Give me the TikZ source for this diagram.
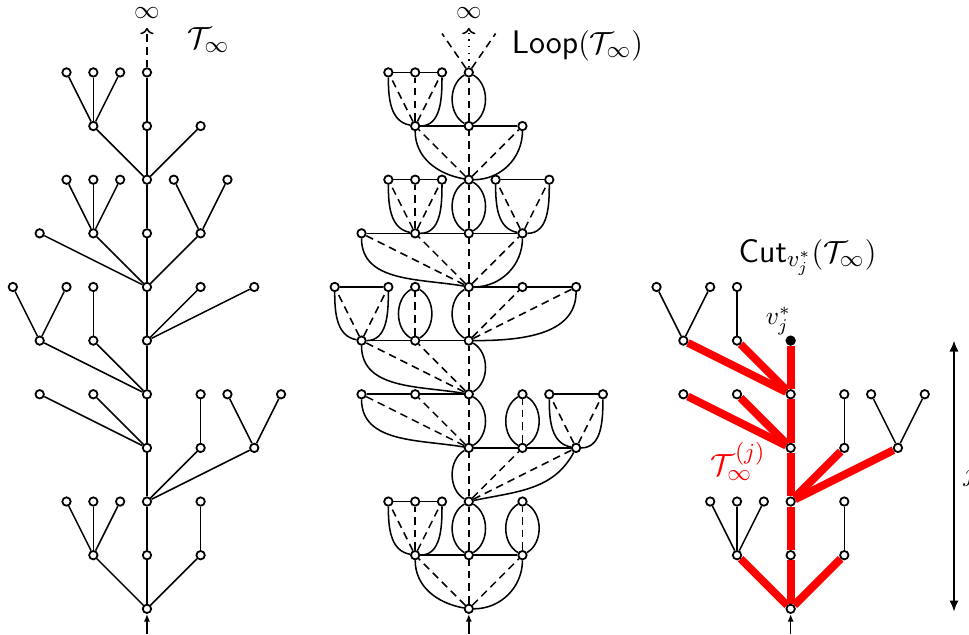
\documentclass[tikz,border=0pt]{standalone}
\usepackage{amsmath,amssymb}
\usetikzlibrary{arrows.meta,positioning}
\pgfdeclarelayer{bg}
\pgfsetlayers{bg,main}

% parent x / parent level / child x / child level
\newcommand\treeedges{0/0/-2/1, 0/0/0/1, 0/0/2/1,
  -2/1/-3/2, -2/1/-2/2, -2/1/-1/2, 0/1/0/2, 2/1/2/2,
  0/2/0/3, 0/2/2/3, 0/2/4/3,
  0/3/-4/4, 0/3/-2/4, 0/3/0/4, 2/3/2/4, 4/3/3/4, 4/3/5/4,
  0/4/-4/5, 0/4/-2/5, 0/4/0/5,
  -4/5/-5/6, -4/5/-3/6, -2/5/-2/6, 0/5/0/6, 0/5/2/6, 0/5/4/6,
  0/6/-4/7, 0/6/-2/7, 0/6/0/7, 0/6/2/7,
  -2/7/-3/8, -2/7/-2/8, -2/7/-1/8, 0/7/0/8, 2/7/1/8, 2/7/3/8,
  0/8/-2/9, 0/8/0/9, 0/8/2/9,
  -2/9/-3/10, -2/9/-2/10, -2/9/-1/10, 0/9/0/10}
% parent x / level / first child / last child / out / in / children
\newcommand\families{0/0/-2/2/-90/0/{-2,0,2}, -2/1/-3/-1/-90/0/{-3,-2,-1},
  0/1/0/0/-90/0/{0}, 2/1/2/2/-90/0/{2}, 0/2/0/4/-118/12/{0,2,4},
  0/3/-4/0/-90/0/{-4,-2,0}, 2/3/2/2/-90/0/{2}, 4/3/3/5/-90/0/{3,5},
  0/4/-4/0/-90/0/{-4,-2,0}, -4/5/-5/-3/-90/0/{-5,-3}, -2/5/-2/-2/-90/0/{-2},
  0/5/0/4/-90/0/{0,2,4}, 0/6/-4/2/-90/0/{-4,-2,0,2}, -2/7/-3/-1/-90/0/{-3,-2,-1},
  0/7/0/0/-90/0/{0}, 2/7/1/3/-90/0/{1,3}, 0/8/-2/2/-90/0/{-2,0,2},
  -2/9/-3/-1/-90/0/{-3,-2,-1}, 0/9/0/0/-90/0/{0}}
\newcommand\rededges{0/0/-2/1, 0/0/0/1, 0/0/2/1, 0/1/0/2, 0/2/0/3, 0/2/2/3, 0/2/4/3,
  0/3/-4/4, 0/3/-2/4, 0/3/0/4, 0/4/-4/5, 0/4/-2/5}
\newcommand\blackedges{-2/1/-3/2, -2/1/-2/2, -2/1/-1/2, 2/1/2/2, 2/3/2/4, 4/3/3/4,
  4/3/5/4, -4/5/-5/6, -4/5/-3/6, -2/5/-2/6}

\tikzset{
  vtx/.style={circle,draw,fill=white,line width=0.7pt,inner sep=0pt,minimum size=3.3pt},
  cutvtx/.style={vtx,fill=black},
  treeedge/.style={line width=0.6pt},
  dsh/.style={line width=0.6pt,dash pattern=on 3pt off 2pt},
  rededge/.style={red,line width=3.1pt},
  lbl/.style={font=\fontsize{12.8}{15}\selectfont},
}

\begin{document}
\begin{tikzpicture}[x=0.37cm,y=0.37cm,>=Latex]
\useasboundingbox (-5.48,-0.94) rectangle (30.65,22.70);

% the tree
\begin{scope}
  \node[vtx] (L0-0) at (0,0) {};
  \foreach \px/\pl/\cx/\cl in \treeedges
    \node[vtx] (L\cx-\cl) at ({\cx},{2*\cl}) {};
  \begin{pgfonlayer}{bg}
    \foreach \px/\pl/\cx/\cl in \treeedges
      \draw[treeedge] (L\px-\pl) -- (L\cx-\cl);
  \end{pgfonlayer}
  \node (Linf) at (0,22.2) {$\infty$};
  \coordinate (Lin) at (0,-0.94);
  \draw[dsh,-{To[length=2.5pt]}] (L0-10) -- (Linf);
  \draw[treeedge,-{Latex[length=3pt,width=2.4pt]}] (Lin) -- (L0-0);
  \node[lbl] (Llbl) at (2.3,21.2) {$\mathcal{T}_\infty$};
\end{scope}

% its looptree
\begin{scope}[shift={(12,0)}]
  \node[vtx] (M0-0) at (0,0) {};
  \foreach \px/\pl/\cx/\cl in \treeedges
    \node[vtx] (M\cx-\cl) at ({\cx},{2*\cl}) {};
  \begin{pgfonlayer}{bg}
    \foreach \px/\pl/\first/\last/\ro/\ri/\kids in \families {
      \pgfmathtruncatemacro\cl{\pl+1}
      \foreach \c in \kids
        \draw[dsh] (M\px-\pl) -- (M\c-\cl);
      \ifnum\first=\last
        \draw[treeedge] (M\first-\cl) to[bend right=60] (M\px-\pl)
          (M\first-\cl) to[bend left=60] (M\px-\pl);
      \else
        \draw[treeedge] (M\first-\cl) -- (M\last-\cl);
        \ifnum\first<\px
          \draw[treeedge] (M\first-\cl) to[out=-90,in=170] (M\px-\pl);
        \else
          \draw[treeedge] (M\first-\cl) to[bend right=60] (M\px-\pl);
        \fi
        \ifnum\last>\px
          \draw[treeedge] (M\last-\cl) to[out=\ro,in=\ri] (M\px-\pl);
        \else
          \draw[treeedge] (M\last-\cl) to[bend left=60] (M\px-\pl);
        \fi
      \fi
    }
  \end{pgfonlayer}
  \node (Minf) at (0,22.2) {$\infty$};
  \coordinate (Min) at (0,-0.94);
  \coordinate (Mul) at (-1,21.45);
  \coordinate (Mur) at (1,21.45);
  \draw[treeedge,dotted,-{To[length=2.5pt]}] (M0-10) -- (Minf);
  \draw[dsh] (M0-10) -- (Mul) (M0-10) -- (Mur);
  \draw[treeedge,-{Latex[length=3pt,width=2.4pt]}] (Min) -- (M0-0);
  \node[lbl] (Mlbl) at (4.05,21.0) {$\textsf{Loop}(\mathcal{T}_\infty)$};
\end{scope}

% cut at v_j^*
\begin{scope}[shift={(24,0)}]
  \node[vtx] (R0-0) at (0,0) {};
  \foreach \px/\pl/\cx/\cl in \rededges
    \node[vtx] (R\cx-\cl) at ({\cx},{2*\cl}) {};
  \foreach \px/\pl/\cx/\cl in \blackedges
    \node[vtx] (R\cx-\cl) at ({\cx},{2*\cl}) {};
  \node[cutvtx] (Rv) at (0,10) {};
  \begin{pgfonlayer}{bg}
    \foreach \px/\pl/\cx/\cl in \rededges
      \draw[rededge] (R\px-\pl) -- (R\cx-\cl);
    \draw[rededge] (R0-4) -- (Rv);
    \foreach \px/\pl/\cx/\cl in \blackedges
      \draw[treeedge] (R\px-\pl) -- (R\cx-\cl);
  \end{pgfonlayer}
  \coordinate (Rin) at (0,-0.94);
  \draw[treeedge,-{Latex[length=3pt,width=2.4pt]}] (Rin) -- (R0-0);
  \node[above left=-2.7pt and -5pt of Rv] (vlbl) {$v_j^*$};
  \node[lbl,red] (Tj) at (-1.96,5.5) {$\mathcal{T}_\infty^{(j)}$};
  \node[lbl] (Rlbl) at (0.63,13.1) {$\textsf{Cut}_{v_j^*}(\mathcal{T}_\infty)$};
  \coordinate (jb) at (6.09,-0.1);
  \coordinate (jt) at (6.09,10);
  \draw[treeedge,{Latex[length=4.3pt,width=3.6pt]}-{Latex[length=4.3pt,width=3.6pt]}]
    (jb) -- (jt) node[midway,right=0pt] (jlbl) {$j$};
\end{scope}
\end{tikzpicture}
\end{document}
